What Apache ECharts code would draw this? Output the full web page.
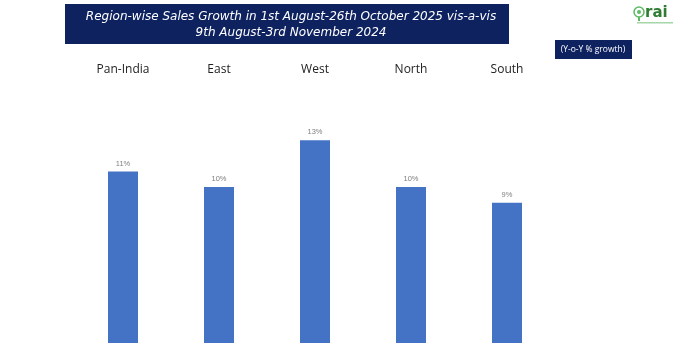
<!DOCTYPE html>
<html>
<head>
<meta charset="utf-8">
<script src="https://cdn.jsdelivr.net/npm/echarts@6/dist/echarts.min.js"></script>
<style>
  html, body { margin: 0; padding: 0; background: #fff; }
  #chart { width: 700px; height: 350px; }
</style>
</head>
<body>
<div id="chart"></div>
<script>
// Region-wise year-on-year sales growth (%)
const regions = ['Pan-India', 'East', 'West', 'North', 'South'];
const growthPct = [11, 10, 13, 10, 9];
const titleLines = [
  'Region-wise Sales Growth in 1st August-26th October 2025 vis-a-vis',
  '9th August-3rd November 2024'
];
const unitNote = '(Y-o-Y % growth)';
const brandName = 'rai';

const chart = echarts.init(document.getElementById('chart'), null, { renderer: 'canvas' });

chart.setOption({
  backgroundColor: '#ffffff',
  animation: false,
  grid: { left: 75, right: 145, top: 78, bottom: 7 },
  xAxis: {
    type: 'category',
    position: 'top',
    data: regions,
    axisLine: { show: false },
    axisTick: { show: false },
    axisLabel: {
      margin: 2,
      color: '#222',
      fontSize: 12,
      fontFamily: 'Open Sans, Liberation Sans, sans-serif'
    }
  },
  yAxis: {
    type: 'value',
    min: 0,
    max: 17,
    show: false,
    splitLine: { show: false }
  },
  series: [{
    type: 'bar',
    data: growthPct,
    barWidth: 30,
    itemStyle: { color: '#4472C4' },
    label: {
      show: true,
      position: 'top',
      distance: 4,
      formatter: '{c}%',
      color: '#7f7f7f',
      fontSize: 7.5,
      fontFamily: 'Liberation Sans, sans-serif'
    }
  }],
  graphic: [
    {
      type: 'rect',
      shape: { x: 65, y: 4, width: 444, height: 40 },
      style: { fill: '#0E2260' }
    },
    {
      type: 'text',
      x: 291, y: 17,
      style: {
        text: titleLines[0],
        fill: '#ffffff',
        font: 'italic 12px "DejaVu Sans", sans-serif',
        align: 'center',
        verticalAlign: 'middle'
      }
    },
    {
      type: 'text',
      x: 291, y: 33,
      style: {
        text: titleLines[1],
        fill: '#ffffff',
        font: 'italic 12px "DejaVu Sans", sans-serif',
        align: 'center',
        verticalAlign: 'middle'
      }
    },
    {
      type: 'rect',
      shape: { x: 555, y: 40, width: 77, height: 19 },
      style: { fill: '#0E2260' }
    },
    {
      type: 'text',
      x: 593, y: 50,
      style: {
        text: unitNote,
        fill: '#ffffff',
        font: '8.5px "Open Sans", sans-serif',
        align: 'center',
        verticalAlign: 'middle'
      }
    },
    // brand mark: small mascot head followed by the name
    {
      type: 'circle',
      shape: { cx: 639, cy: 12, r: 5 },
      style: { fill: '#ffffff', stroke: '#5DBB63', lineWidth: 1.5 }
    },
    {
      type: 'circle',
      shape: { cx: 639, cy: 12, r: 2 },
      style: { fill: '#5DBB63' }
    },
    {
      type: 'line',
      shape: { x1: 639, y1: 17, x2: 639, y2: 21 },
      style: { stroke: '#5DBB63', lineWidth: 2 }
    },
    {
      type: 'text',
      x: 645, y: 13,
      style: {
        text: brandName,
        fill: '#2E7D32',
        font: 'bold 15px "DejaVu Sans", sans-serif',
        verticalAlign: 'middle'
      }
    },
    {
      type: 'rect',
      shape: { x: 637, y: 22, width: 36, height: 1.5 },
      style: { fill: '#A5D6A7' }
    }
  ]
});
</script>
</body>
</html>
